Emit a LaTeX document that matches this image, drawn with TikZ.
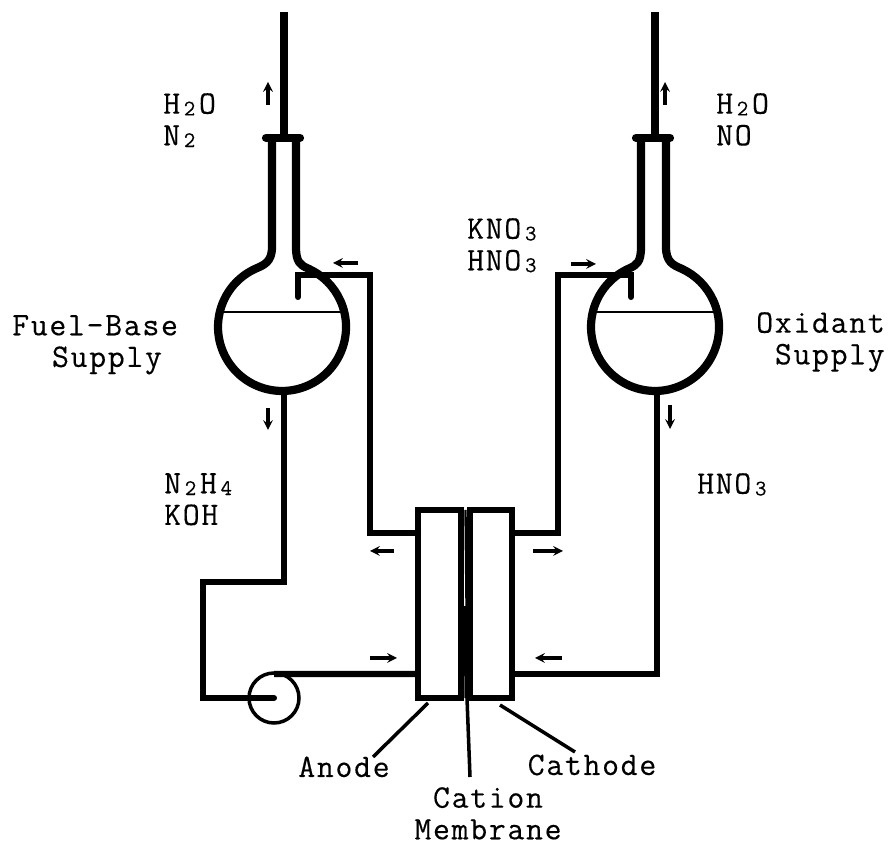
\documentclass[tikz,border=0pt]{standalone}
\usepackage{tikz}
\usepackage{fontspec}
\usetikzlibrary{positioning, arrows}
\newfontfamily\typefont[FakeBold=0.3,LetterSpace=5.2]{Latin Modern Mono}
\newcommand{\subnum}[1]{\raisebox{-1.5pt}{\makebox[16.1pt]{\fontsize{19}{19}\selectfont #1}}}
\tikzset{
	glass/.style={
		draw,
		line width=7pt,
		line join=round,
	},
	pipe/.style={
		draw,
		line width=5.2pt,
		line join=miter,
	},
	chamber/.style={
		rectangle,
		draw,
		line width=5.2pt,
		inner sep=0pt,
		outer sep=0pt,
		minimum height=5.64cm,
		fill=white,
	},
	pump/.style={
		circle,
		draw,
		line width=3pt,
		inner sep=0pt,
		outer sep=0pt,
		minimum size=1.5cm,
	},
	flow/.style={
		->,
		line width=2.6pt,
	},
	leader/.style={
		draw,
		line width=3pt,
	},
	lab/.style={
		font=\typefont\fontsize{28}{27}\selectfont,
		inner sep=0pt,
		align=left,
	},
}

\begin{document}
\begin{tikzpicture}[x=0.03cm, y=0.03cm, >=stealth]
		\useasboundingbox (0,0) rectangle (890,846);

		% flasks
		\draw [glass] (272,708) coordinate (fuelneck) -- (272,599) .. controls (272,584) and (264,581) .. (256,577.5)
			arc [start angle=114, end angle=426, radius=64] .. controls (300,581) and (296,584) .. (296,599) -- (296,708);
		\draw [glass] (641,708) coordinate (oxneck) -- (641,599) .. controls (641,584) and (637,581) .. (629,577.5)
			arc [start angle=114, end angle=426, radius=64] .. controls (673,581) and (666,584) .. (666,599) -- (666,708);
		\draw [glass, line cap=round] (266,708) -- (300,708);
		\draw [glass, line cap=round] (636,708) -- (670,708);
		\draw [line width=2.4pt] (224,534) coordinate (fuellevel) -- (340,534);
		\draw [line width=2.4pt] (594,534) coordinate (oxlevel) -- (713,534);

		% cell
		\node [chamber, minimum width=1.29cm] (anode) at (439.5,242) {};
		\node [chamber, minimum width=1.26cm] (cathode) at (491,242) {};
		\node [pump] (pumpcase) at (274,148) {};
		\draw [line width=2pt] (465.5,336) coordinate (membtop) -- (466.5,240);
		\draw [line width=4.5pt] (466.5,240) -- (467,148) coordinate (membbot);

		% points on the pipes
		\coordinate (fuelvent) at (284,834);
		\coordinate (oxvent) at (655,834);
		\coordinate (fuelout) at (284,455);
		\coordinate (oxout) at (657,455);
		\coordinate (fueltube) at (298,549);
		\coordinate (oxtube) at (631,549);
		\coordinate (fuelcorner) at (370,571);
		\coordinate (oxcorner) at (558,571);
		\coordinate (upper) at (0,313);
		\coordinate (lower) at (0,172);
		\coordinate (bendtop) at (203,264);

		\draw [pipe, line width=6pt] (fuelneck -| fuelvent) -- (fuelvent);
		\draw [pipe, line width=6pt] (oxneck -| oxvent) -- (oxvent);
		\draw [pipe, line cap=round] (fueltube) |- (fuelcorner) -- (fuelcorner |- upper) -- (anode.west |- upper);
		\draw [pipe, line cap=round] (oxtube) |- (oxcorner) -- (oxcorner |- upper) -- (cathode.east |- upper);
		\draw [pipe, line cap=round] (fuelout) |- (bendtop) |- (pumpcase.center);
		\draw [pipe] (pumpcase.north -| pumpcase.center) ++(0,-1) -- (anode.west |- lower);
		\draw [pipe] (oxout) |- (cathode.east |- lower);

		% flow marks
		\coordinate (f1) at (268,741);
		\coordinate (f2) at (665,741);
		\coordinate (f3) at (268,438);
		\coordinate (f4) at (670,441);
		\coordinate (f5) at (358,583);
		\coordinate (f6) at (571,582);
		\coordinate (f7) at (370,188);
		\coordinate (f8) at (394,295);
		\coordinate (f9) at (533,295);
		\coordinate (f10) at (562,188);
		\draw [flow] (f1) -- ++(0,23);
		\draw [flow] (f2) -- ++(0,23);
		\draw [flow] (f3) -- ++(0,-22);
		\draw [flow] (f4) -- ++(0,-24);
		\draw [flow] (f5) -- ++(-25,0);
		\draw [flow] (f6) -- ++(25,0);
		\draw [flow] (f7) -- ++(27,0);
		\draw [flow] (f8) -- ++(-24,0);
		\draw [flow] (f9) -- ++(30,0);
		\draw [flow] (f10) -- ++(-27,0);

		% labels
		\node [lab, anchor=north west] (ventfuel) at (163,753) {H\subnum{2}O\\N\subnum{2}};
		\node [lab, anchor=north west] (ventox) at (716,753) {H\subnum{2}O\\NO};
		\node [lab, anchor=north west] (oxreturn) at (467,628) {KNO\subnum{3}\\HNO\subnum{3}};
		\node [lab, anchor=north west] (feedfuel) at (164,373) {N\subnum{2}H\subnum{4}\\KOH};
		\node [lab, anchor=north west] (feedox) at (697,373) {HNO\subnum{3}};
		\node [lab, anchor=north west] (fuelname) at (12,531) {Fuel-Base\\\hspace*{34pt}Supply};
		\node [lab, anchor=north east, align=right] (oxname) at (885,534) {Oxidant\\Supply};
		\node [lab, anchor=base] (anodename) at (344,69) {Anode};
		\node [lab, anchor=base] (cathodename) at (592,71) {Cathode};
		\node [lab, anchor=north, align=center] (membname) at (488,59) {Cation\\Membrane};

		\coordinate (anodeend) at (373,89);
		\coordinate (membend) at (470,69);
		\coordinate (cathodeend) at (575,94);
		\draw [leader] (anode.south west) ++(10,-5) -- (anodeend);
		\draw [leader] (membbot) -- (membend);
		\draw [leader] (cathode.south) ++(9,-7) -- (cathodeend);
	\end{tikzpicture}
\end{document}
